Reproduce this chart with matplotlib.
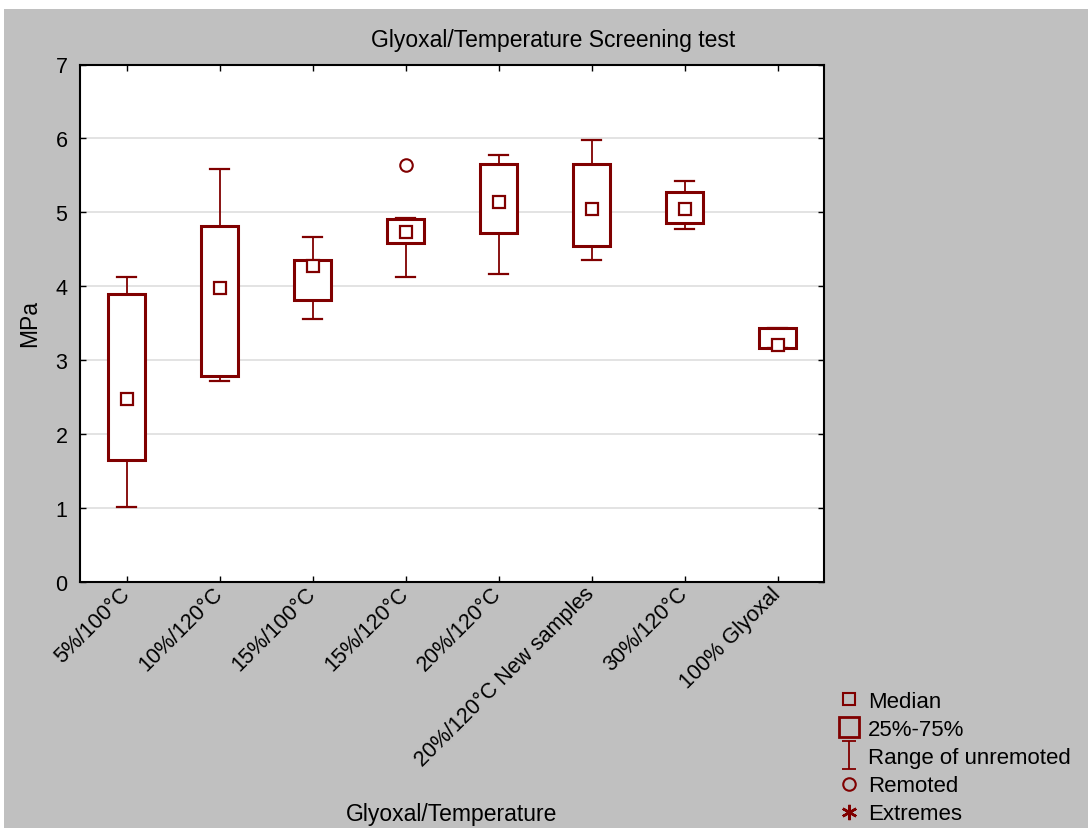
import numpy as np
import matplotlib.pyplot as plt
from matplotlib.lines import Line2D
from matplotlib.patches import Rectangle
from matplotlib.path import Path

# Data
groups = ['5%/100°C', '10%/120°C', '15%/100°C', '15%/120°C', '20%/120°C',
          '20%/120°C New samples', '30%/120°C', '100% Glyoxal']
medians = [2.47, 3.98, 4.27, 4.74, 5.14, 5.04, 5.05, 3.20]
q25 = [1.65, 2.78, 3.82, 4.58, 4.72, 4.54, 4.85, 3.16]
q75 = [3.90, 4.82, 4.36, 4.91, 5.65, 5.66, 5.27, 3.43]
lows = [1.02, 2.72, 3.56, 4.12, 4.16, 4.36, 4.78, 3.16]
highs = [4.12, 5.58, 4.66, 4.92, 5.77, 5.98, 5.43, 3.44]
outliers = [[], [], [], [5.64], [], [], [], []]

red = '#800000'
plt.rcParams['font.family'] = ['Liberation Sans', 'DejaVu Sans']

fig = plt.figure(figsize=(10.88, 8.29), dpi=100, facecolor='white')
# gray panel (thin white strip at top and left as in the export)
fig.patches.append(Rectangle((4 / 1088, 0), 1, 1 - 10 / 829, transform=fig.transFigure,
                             facecolor='#c0c0c0', edgecolor='none', zorder=-10))

ax = fig.add_axes([80 / 1088, 1 - 583 / 829, 744 / 1088, (583 - 65.5) / 829])
ax.set_facecolor('white')

stats = []
for i in range(len(groups)):
    stats.append(dict(med=medians[i], q1=q25[i], q3=q75[i], whislo=lows[i],
                      whishi=highs[i], fliers=outliers[i], label=groups[i]))

pos = np.arange(1, len(groups) + 1)
ax.bxp(stats, positions=pos, widths=0.4, patch_artist=True, showfliers=True,
       boxprops=dict(facecolor='white', edgecolor=red, linewidth=2.2),
       whiskerprops=dict(color=red, linewidth=1.3),
       capprops=dict(color=red, linewidth=1.6),
       capwidths=0.2,
       medianprops=dict(visible=False),
       flierprops=dict(marker='o', markersize=9, markerfacecolor='none',
                       markeredgecolor=red, markeredgewidth=1.5))
ax.plot(pos, medians, linestyle='none', marker='s', markersize=9,
        markerfacecolor='white', markeredgecolor=red, markeredgewidth=1.6, zorder=5)

ax.set_xlim(0.5, 8.5)
ax.set_ylim(0, 7)
ax.set_yticks(range(0, 8))
ax.set_xticks(pos)
ax.set_xticklabels(groups, rotation=45, ha='right', va='center', rotation_mode='anchor')
ax.yaxis.grid(True, color='#e0e0e0', linewidth=1.3)
ax.set_axisbelow(True)
ax.tick_params(direction='in', length=4, width=1, top=True, right=True,
               labelsize=15.5, colors='black')
ax.tick_params(axis='x', pad=6)
ax.tick_params(axis='y', pad=9)
for s in ax.spines.values():
    s.set_linewidth(1.5)
    s.set_color('black')

fig.text(553 / 1088, 1 - 40 / 829, 'Glyoxal/Temperature Screening test',
         ha='center', va='center', fontsize=16.5)
fig.text(452 / 1088, 1 - 815 / 829, 'Glyoxal/Temperature', ha='center', va='center', fontsize=16.5)
fig.text(30 / 1088, 1 - 324 / 829, 'MPa', ha='center', va='center', rotation=90, fontsize=16.5)

# legend
rng = Path([(-0.5, 1), (0.5, 1), (0, 1), (0, -1), (-0.5, -1), (0.5, -1)],
           [Path.MOVETO, Path.LINETO, Path.MOVETO, Path.LINETO, Path.MOVETO, Path.LINETO])
handles = [
    Line2D([], [], linestyle='none', marker='s', markersize=9, markerfacecolor='none',
           markeredgecolor=red, markeredgewidth=1.5),
    Line2D([], [], linestyle='none', marker='s', markersize=14, markerfacecolor='none',
           markeredgecolor=red, markeredgewidth=2),
    Line2D([], [], linestyle='none', marker=rng, markersize=20, markerfacecolor='none',
           markeredgecolor=red, markeredgewidth=1.3),
    Line2D([], [], linestyle='none', marker='o', markersize=9, markerfacecolor='none',
           markeredgecolor=red, markeredgewidth=1.5),
    Line2D([], [], linestyle='none', marker=(6, 2, 0), markersize=11,
           markeredgecolor=red, markeredgewidth=1.8),
]
labels = ['Median', '25%-75%', 'Range of unremoted', 'Remoted', 'Extremes']
fig.legend(handles, labels, loc='upper left', bbox_to_anchor=(838 / 1088, 1 - 692 / 829),
           frameon=False, fontsize=16, handlelength=1.0, handletextpad=0.35,
           labelspacing=0.32, borderaxespad=0, borderpad=0)

fig.savefig('out.png', dpi=100, facecolor=fig.get_facecolor())
